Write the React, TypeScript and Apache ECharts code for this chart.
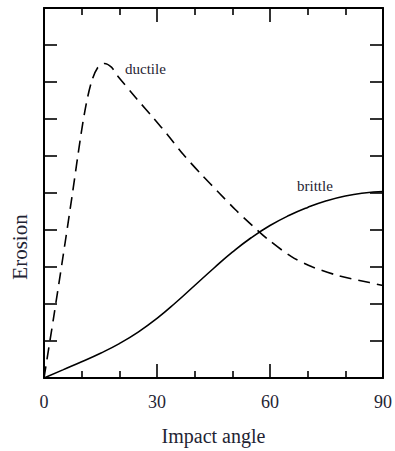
import React, { useEffect, useRef } from "react";
import * as echarts from "echarts";

// Impact angle (deg) vs. erosion (arbitrary units)
const ductile: [number, number][] = [
  [0, 0], [2.5, 1.6], [5, 3.25], [7.5, 4.95], [9.7, 6.5], [11.1, 7.35], [12.6, 8.0],
  [14.2, 8.38], [16, 8.5], [17.9, 8.4], [19.5, 8.17], [24.6, 7.55], [29.1, 7.02],
  [33, 6.55], [37, 6.04], [41.8, 5.5], [46.5, 5.0], [50.7, 4.56], [55.1, 4.14],
  [59.3, 3.76], [65.7, 3.28], [71.3, 3.0], [78.4, 2.76], [86.4, 2.58], [90, 2.5],
];
const brittle: [number, number][] = [
  [0, 0], [5, 0.22], [10, 0.44], [15, 0.67], [20, 0.93], [25, 1.24], [30, 1.61],
  [35, 2.04], [40, 2.5], [45, 2.96], [50, 3.4], [55, 3.79], [60, 4.12], [65, 4.39],
  [70, 4.61], [75, 4.79], [80, 4.92], [85, 5.0], [90, 5.04],
];
const seriesNames = ["ductile", "brittle"];
const xAxisTitle = "Impact angle";
const yAxisTitle = "Erosion";

export default function App() {
  const ref = useRef<HTMLDivElement>(null);
  useEffect(() => {
    const chart = echarts.init(ref.current!, null, { renderer: "svg" });
    const font = "'Liberation Serif', 'Times New Roman', serif";
    const textColor = "#1f2433";
    const xCommon = {
      type: "value",
      min: 0,
      max: 90,
      interval: 30,
      axisLine: { show: true, onZero: false, lineStyle: { color: "#000", width: 2 } },
      axisTick: { show: true, inside: true, length: 14, lineStyle: { color: "#000", width: 1.6 } },
      minorTick: { show: true, splitNumber: 3, length: 7, lineStyle: { color: "#000", width: 1.6 } },
      splitLine: { show: false },
      minorSplitLine: { show: false },
    };
    const yCommon = {
      type: "value",
      min: 0,
      max: 10,
      interval: 1,
      axisLine: { show: true, onZero: false, lineStyle: { color: "#000", width: 2 } },
      axisTick: { show: true, inside: true, length: 13, lineStyle: { color: "#000", width: 1.6 } },
      axisLabel: { show: false },
      splitLine: { show: false },
    };
    chart.setOption({
      animation: false,
      backgroundColor: "#fff",
      grid: { left: 44, right: 12, top: 8, bottom: 71 },
      xAxis: [
        {
          ...xCommon,
          position: "bottom",
          axisLabel: { show: true, fontSize: 18, fontFamily: font, color: textColor, margin: 15 },
          name: xAxisTitle,
          nameLocation: "middle",
          nameGap: 48,
          nameTextStyle: { fontSize: 20, fontFamily: font, color: textColor },
        },
        { ...xCommon, position: "top", axisLabel: { show: false } },
      ],
      yAxis: [
        { ...yCommon, position: "left" },
        { ...yCommon, position: "right" },
      ],
      series: [
        {
          name: seriesNames[0],
          type: "line",
          data: ductile,
          smooth: 0.3,
          showSymbol: false,
          lineStyle: { color: "#000", width: 1.6, type: [12, 7] },
        },
        {
          name: seriesNames[1],
          type: "line",
          data: brittle,
          smooth: 0.5,
          showSymbol: false,
          lineStyle: { color: "#000", width: 1.6 },
        },
      ],
      graphic: [
        {
          type: "text",
          x: 20,
          y: 247,
          rotation: Math.PI / 2,
          style: {
            text: yAxisTitle,
            fontSize: 21,
            fontFamily: font,
            fill: textColor,
            textAlign: "center",
            textVerticalAlign: "middle",
          },
        },
        {
          type: "text",
          x: 125,
          y: 69,
          style: { text: seriesNames[0], fontSize: 15, fontFamily: font, fill: textColor, textVerticalAlign: "middle" },
        },
        {
          type: "text",
          x: 297,
          y: 186,
          style: { text: seriesNames[1], fontSize: 15, fontFamily: font, fill: textColor, textVerticalAlign: "middle" },
        },
      ],
    });
    return () => chart.dispose();
  }, []);
  return <div ref={ref} style={{ position: "fixed", left: 0, top: 0, width: 395, height: 451 }} />;
}
